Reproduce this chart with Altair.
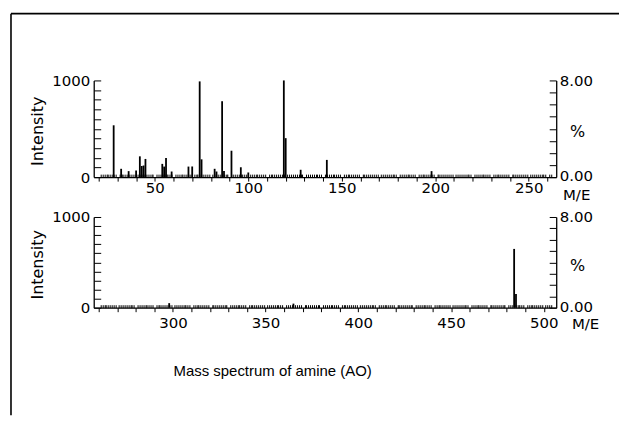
import altair as alt
import pandas as pd

# ---- data ----
top_mz = [28, 32, 36, 40, 42, 43, 44, 45, 54, 55, 56, 59, 68, 70, 74, 75,
          82, 83, 86, 87, 91, 96, 100, 119, 120, 128, 142, 198]
top_int = [536, 86, 62, 68, 215, 115, 120, 188, 137, 109, 198, 58, 109, 110, 990, 184,
           86, 58, 785, 62, 273, 102, 48, 1000, 403, 76, 178, 62]
bot_mz = [298, 365, 484, 485]
bot_int = [50, 45, 648, 150]

top_range = [20, 262]
bot_range = [260, 504]
int_range = [0, 1000]
pct_range = [0, 8]
int_ticks = list(range(0, 1001, 100))
pct_ticks = list(range(0, 9))

caption = "Mass spectrum of amine (AO)"
x_title = "M/E"
y_title = "Intensity"
pct_title = "%"

FONT = "DejaVu Sans"
CAP_FONT = "Liberation Sans"
INK = "#000000"


def panel(mz, inten, xdom, h, label_pad, me_x, me_y, zero_off, frame=False, title=None):
    df = pd.DataFrame({"mz": mz, "intensity": inten})
    ticks = list(range(xdom[0], xdom[1] + 1))
    xaxis = alt.Axis(
        values=ticks,
        labelExpr="datum.value % 50 === 0 ? datum.label : ''",
        format="d",
        labelOverlap=False,
        labelFlush=False,
        labelBaseline="middle",
        labelPadding=label_pad,
        tickSize={"condition": {"test": "datum.value % 10 === 0", "value": 4}, "value": -3},
        tickWidth=1,
        title=x_title,
        titleX=me_x,
        titleY=me_y,
        titleAlign="center",
        titleBaseline="middle",
        titleFontSize=15,
    )
    yaxis = alt.Axis(
        orient="left",
        values=int_ticks,
        format="d",
        labelExpr="datum.value === 0 || datum.value === 1000 ? datum.label : ''",
        labelOverlap=False,
        labelFlush=False,
        tickSize=alt.ExprRef(expr="-7"),
        labelPadding=11,
        title=y_title,
        titleX=-56,
        titleY=h / 2 + 2,
        titleAngle=270,
        titleAlign="center",
        titleBaseline="middle",
    )
    bars = alt.Chart(df).mark_bar(size=1.8, color=INK).encode(
        x=alt.X("mz:Q", scale=alt.Scale(domain=xdom, nice=False, zero=False), axis=xaxis),
        y=alt.Y("intensity:Q", scale=alt.Scale(domain=int_range, nice=False), axis=yaxis),
    )
    pdf = pd.DataFrame({"pct": pct_range})
    paxis = alt.Axis(
        orient="right",
        values=pct_ticks,
        format=".2f",
        labelExpr="datum.value === 0 || datum.value === 8 ? datum.label : ''",
        labelOverlap=False,
        labelFlush=False,
        labelOffset={"condition": {"test": "datum.value === 0", "value": zero_off}, "value": 0},
        tickSize=alt.ExprRef(expr="-7"),
        labelPadding=10,
        title=pct_title,
        titleX=21,
        titleY=h / 2 + 3,
        titleAngle=0,
        titleAlign="center",
        titleBaseline="middle",
    )
    right = alt.Chart(pdf).mark_rule(opacity=0).encode(
        y=alt.Y("pct:Q", scale=alt.Scale(domain=pct_range, nice=False), axis=paxis)
    )
    layers = [bars, right]
    if frame:
        fdf = pd.DataFrame({"f": [0]})
        top_line = alt.Chart(fdf).mark_rule(color=INK, strokeWidth=1.6).encode(
            x=alt.value(-83), x2=alt.value(527), y=alt.value(-67)
        )
        left_line = alt.Chart(fdf).mark_rule(color=INK, strokeWidth=1.6).encode(
            x=alt.value(-83), y=alt.value(-67), y2=alt.value(336)
        )
        layers += [top_line, left_line]
    ch = alt.layer(*layers).resolve_scale(y="independent")
    props = dict(width=464, height=h)
    if title is not None:
        props["title"] = title
    return ch.properties(**props)


top = panel(top_mz, top_int, top_range, 97, 6, 484, 17, -2, frame=True)
bottom = panel(
    bot_mz, bot_int, bot_range, 91, 11, 493, 16, -1,
    title=alt.TitleParams(caption, orient="bottom", anchor="start", frame="group", dx=80,
                          offset=33, fontSize=15, fontWeight="normal", font=CAP_FONT, color=INK),
)

chart = (
    alt.vconcat(top, bottom, spacing=40, bounds="flush")
    .properties(padding={"left": 1, "top": 3, "right": 0, "bottom": 0})
    .configure(font=FONT)
    .configure_view(stroke="transparent")
    .configure_axis(
        grid=False,
        domainColor=INK,
        domainWidth=1.3,
        tickColor=INK,
        labelColor=INK,
        titleColor=INK,
        labelFont=FONT,
        titleFont=FONT,
        labelFontSize=15,
        titleFontSize=16,
        titleFontWeight="normal",
    )
)

chart.save("out.html", embed_options={"renderer": "svg", "actions": False})
